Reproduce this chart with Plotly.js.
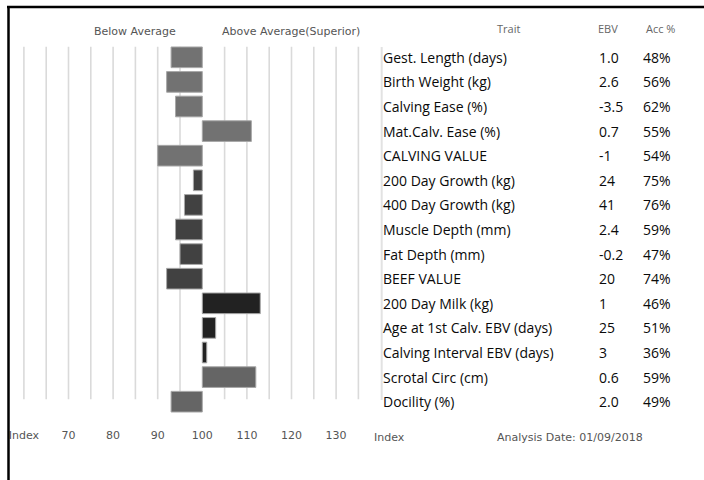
<!DOCTYPE html>
<html><head><meta charset="utf-8">
<script src="https://cdn.plot.ly/plotly-3.0.1.min.js"></script>
<style>html,body{margin:0;padding:0;background:#fff}#chart{width:704px;height:480px}</style>
</head><body><div id="chart"></div>
<script>
const traits = ['Gest. Length (days)','Birth Weight (kg)','Calving Ease (%)','Mat.Calv. Ease (%)','CALVING VALUE','200 Day Growth (kg)','400 Day Growth (kg)','Muscle Depth (mm)','Fat Depth (mm)','BEEF VALUE','200 Day Milk (kg)','Age at 1st Calv. EBV (days)','Calving Interval EBV (days)','Scrotal Circ (cm)','Docility (%)'];
const ebv = ['1.0','2.6','-3.5','0.7','-1','24','41','2.4','-0.2','20','1','25','3','0.6','2.0'];
const acc = ['48%','56%','62%','55%','54%','75%','76%','59%','47%','74%','46%','51%','36%','59%','49%'];
const indexValues = [93,92,94,111,90,98,96,94,95,92,113,103,101,112,93];
const groups = ['calving','calving','calving','calving','calving','beef','beef','beef','beef','beef','maternal','maternal','maternal','other','other'];
const tickValues = [60,70,80,90,100,110,120,130];
const tickLabels = ['Index','70','80','90','100','110','120','130'];
const gridValues = [60,65,70,75,80,85,90,95,105,110,115,120,125,130,135];
const averageIndex = 100;

const groupColors = {calving:'#727272', beef:'#414141', maternal:'#222222', other:'#656565'};
const W = 704, H = 480, mt = 45, mb = 66;
const ph = H - mt - mb;
const px = v => v / W;
const py = v => (H - mb - v) / ph;
const rows = traits.map((t, i) => i);

const font = 'DejaVu Sans, Verdana, sans-serif';
const tfont = 'Open Sans, Lato, sans-serif';

const bar = {
  type: 'bar', orientation: 'h', y: rows,
  x: indexValues.map(v => v - averageIndex), base: averageIndex,
  width: 0.84,
  marker: {color: groups.map(g => groupColors[g]), line: {color: '#a8a8a8', width: 1}},
  hoverinfo: 'none', showlegend: false
};

const shapes = gridValues.map(v => ({
  type: 'line', xref: 'x', yref: 'y', x0: v, x1: v, y0: -0.43, y1: 13.9,
  line: {color: '#dadada', width: 1.6}, layer: 'below'
}));
shapes.push({type:'line', xref:'paper', yref:'paper', x0:px(381.7), x1:px(381.7), y0:py(47), y1:py(400), line:{color:'#e2e2e2', width:2}});
shapes.push({type:'line', xref:'paper', yref:'paper', x0:px(7), x1:px(704), y0:py(7), y1:py(7), line:{color:'#000', width:2.5}});
shapes.push({type:'line', xref:'paper', yref:'paper', x0:px(8.5), x1:px(8.5), y0:py(6), y1:py(480), line:{color:'#000', width:2.5}});

const ann = [];
const addText = (text, x, y, yref, opts) => ann.push(Object.assign({
  text, x, y, xref: 'paper', yref, showarrow: false, xanchor: 'left', yanchor: 'middle'
}, opts));
const rf = {family: tfont, size: 14, color: '#0a0a0a', weight: 500};
traits.forEach((t, i) => {
  addText(t, px(381), i, 'y', {font: rf});
  addText(ebv[i], px(597), i, 'y', {font: rf});
  addText(acc[i], px(641), i, 'y', {font: rf});
});
const hf = {family: tfont, size: 11, color: '#666'};
addText('Trait', px(508), py(29), 'paper', {xanchor: 'center', font: hf});
addText('EBV', px(608), py(29), 'paper', {xanchor: 'center', font: hf});
addText('Acc %', px(660), py(29), 'paper', {xanchor: 'center', font: hf});
const gf = {family: font, size: 11, color: '#555'};
addText('Below Average', px(134.5), py(31), 'paper', {xanchor: 'center', font: gf});
addText('Above Average(Superior)', px(291), py(31), 'paper', {xanchor: 'center', font: gf});
addText('Index', px(389), py(437), 'paper', {xanchor: 'center', font: gf});
addText('Analysis Date: 01/09/2018', px(570), py(437), 'paper', {xanchor: 'center', font: gf});

const x0v = averageIndex - 202.3 / 4.46;
const layout = {
  width: W, height: H,
  margin: {l: 0, r: 0, t: mt, b: mb, pad: 0},
  paper_bgcolor: '#fff', plot_bgcolor: 'rgba(0,0,0,0)',
  xaxis: {domain: [0, 380 / W], range: [x0v, x0v + 380 / 4.46], showgrid: false, zeroline: false,
    showline: false, tickvals: tickValues, ticktext: tickLabels, ticks: '', ticklabelstandoff: 13,
    tickfont: gf, fixedrange: true},
  yaxis: {range: [14.5, -0.5], showgrid: false, zeroline: false, showline: false,
    showticklabels: false, ticks: '', fixedrange: true},
  shapes, annotations: ann, bargap: 0
};
Plotly.newPlot('chart', [bar], layout, {displayModeBar: false, staticPlot: true});
</script></body></html>
